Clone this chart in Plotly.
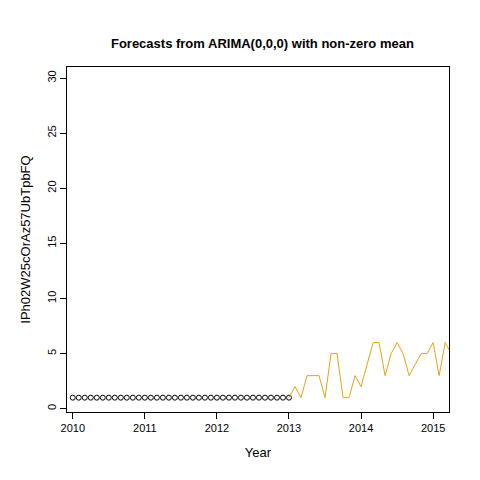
import plotly.graph_objects as go

hist_t = [2010 + i/12 for i in range(37)]
hist_v = [1]*37
line_t = [2013 + i/12 for i in range(28)]
line_v = [1,2,1,3,3,3,1,5,5,1,1,3,
          2,4,6,6,3,5,6,5,3,4,5,5,
          6,3,6,5]

fig = go.Figure()
fig.add_trace(go.Scatter(x=hist_t, y=hist_v, mode="markers",
    marker=dict(symbol="circle-open", size=5, color="black", line=dict(width=1))))
fig.add_trace(go.Scatter(x=line_t, y=line_v, mode="lines",
    line=dict(color="#E8A317", width=1)))
fig.update_layout(width=480, height=480, showlegend=False,
    plot_bgcolor="white", paper_bgcolor="white",
    margin=dict(l=59, r=39, t=59, b=76, autoexpand=False),
    title=dict(text="<b>Forecasts from ARIMA(0,0,0) with non-zero mean</b>", x=0.53, y=0.935,
               font=dict(family="Liberation Sans, Arial", size=13, color="black")),
    font=dict(family="Liberation Sans, Arial", size=11, color="black"))
ax = dict(showgrid=False, zeroline=False, showline=True, linecolor="black", mirror=True,
          ticks="outside", ticklen=6, tickcolor="black")
fig.update_xaxes(**ax, range=[2009.92, 2015.22], tickvals=[2010,2011,2012,2013,2014,2015],
                 title=dict(text="Year", standoff=14))
fig.update_yaxes(**ax, range=[-0.3, 31.0], tickvals=[0,5,10,15,20,25,30], tickangle=-90,
                 title=dict(text="IPh02W25cOrAz57UbTpbFQ", standoff=12))
fig.write_html("out.html")
